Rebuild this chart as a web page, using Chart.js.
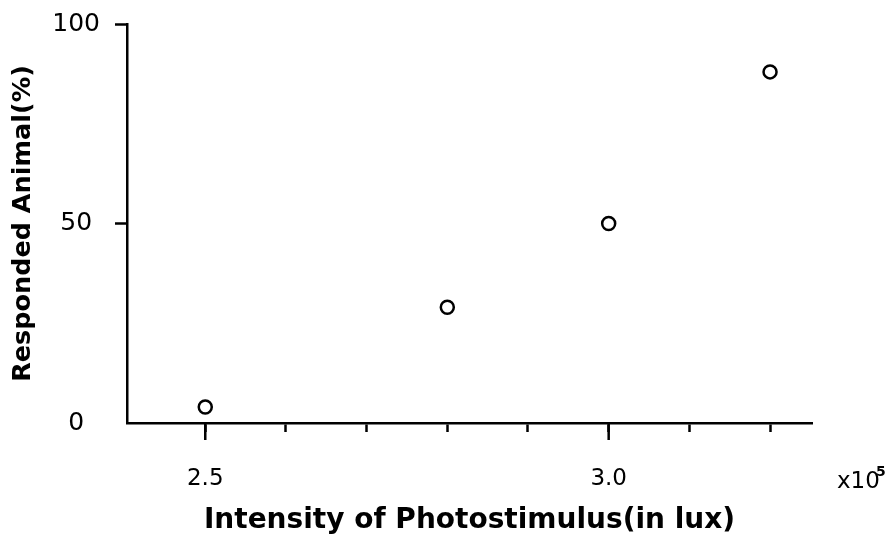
<!DOCTYPE html>
<html>
<head>
<meta charset="utf-8">
<script src="https://cdn.jsdelivr.net/npm/chart.js@4"></script>
<style>
  html, body { margin: 0; padding: 0; background: #fff; }
  #wrap { width: 889px; height: 541px; }
</style>
</head>
<body>
<div id="wrap"><canvas id="chart" width="889" height="541"></canvas></div>
<script>
// data
const intensity = [2.5, 2.8, 3.0, 3.2];      // x 10^5 lux
const responded = [4, 29, 50, 88];           // %
const xTicks = [2.5, 2.6, 2.7, 2.8, 2.9, 3.0, 3.1, 3.2];
const xLabelled = [2.5, 3.0];
const yTicks = [0, 50, 100];

const ink = '#000';

// longer marks for the labelled x ticks + the x10^5 note
const extras = {
    id: 'extras',
    afterDraw(chart) {
        const ctx = chart.ctx;
        const xs = chart.scales.x;
        ctx.save();
        ctx.strokeStyle = ink;
        ctx.lineWidth = 2.5;
        xLabelled.forEach(v => {
            const px = xs.getPixelForValue(v);
            ctx.beginPath();
            ctx.moveTo(px, xs.top);
            ctx.lineTo(px, xs.top + 17);
            ctx.stroke();
        });
        ctx.fillStyle = ink;
        ctx.textBaseline = 'alphabetic';
        ctx.font = '23px "DejaVu Sans"';
        ctx.fillText('x10', 837, 488);
        ctx.font = 'bold 14px "DejaVu Sans"';
        ctx.fillText('5', 876, 476);
        ctx.restore();
    }
};

const points = intensity.map((x, i) => ({ x: x, y: responded[i] }));

new Chart(document.getElementById('chart'), {
    type: 'scatter',
    data: {
        datasets: [{
            data: points,
            pointRadius: 6.5,
            pointBorderWidth: 2.5,
            pointBorderColor: ink,
            pointBackgroundColor: '#fff',
            showLine: false
        }]
    },
    options: {
        responsive: false,
        animation: false,
        layout: { padding: { top: 24, right: 77, left: 0, bottom: 0 } },
        plugins: {
            legend: { display: false },
            tooltip: { enabled: false }
        },
        scales: {
            x: {
                type: 'linear',
                min: 2.403,
                max: 3.252,
                afterBuildTicks: s => { s.ticks = xTicks.map(v => ({ value: v })); },
                afterFit: s => { s.height = 118; },
                border: { color: ink, width: 2.5 },
                grid: {
                    drawOnChartArea: false,
                    tickLength: 9,
                    tickWidth: 2.5,
                    tickColor: ink
                },
                ticks: {
                    padding: 33,
                    color: ink,
                    font: { family: 'DejaVu Sans', size: 23 },
                    callback: v => xLabelled.some(l => Math.abs(l - v) < 1e-6) ? v.toFixed(1) : ''
                },
                title: {
                    display: true,
                    text: 'Intensity of Photostimulus(in lux)',
                    color: ink,
                    font: { family: 'DejaVu Sans', size: 28, weight: 'bold' },
                    padding: { top: 0, bottom: 3 }
                }
            },
            y: {
                min: 0,
                max: 100,
                afterBuildTicks: s => { s.ticks = yTicks.map(v => ({ value: v })); },
                afterFit: s => { s.width = 127; s.paddingTop = 0; s.paddingBottom = 0; },
                border: { color: ink, width: 2.5 },
                grid: {
                    drawOnChartArea: false,
                    tickLength: 12,
                    tickWidth: 2.5,
                    tickColor: c => c.tick && c.tick.value === 0 ? 'rgba(0,0,0,0)' : ink
                },
                ticks: {
                    crossAlign: 'center',
                    padding: 15,
                    color: ink,
                    font: { family: 'DejaVu Sans', size: 25 }
                },
                title: {
                    display: true,
                    text: 'Responded Animal(%)',
                    color: ink,
                    font: { family: 'DejaVu Sans', size: 25.5, weight: 'bold' },
                    padding: { top: 8, bottom: 0 }
                }
            }
        }
    },
    plugins: [extras]
});
</script>
</body>
</html>
